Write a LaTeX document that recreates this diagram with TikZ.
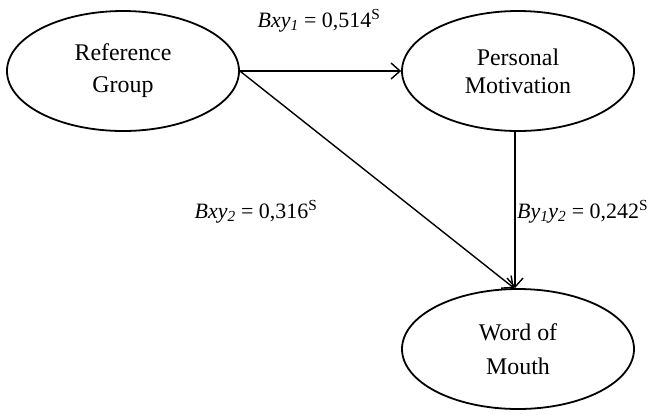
\documentclass[tikz,border=0pt]{standalone}
\usepackage{fontspec}
\setmainfont{Liberation Serif}
\usetikzlibrary{shapes.geometric,arrows.meta}
\tikzset{
  construct/.style={ellipse, draw, line width=1.8bp, minimum width=232bp, minimum height=120bp, inner sep=0pt, align=center, font=\fontsize{24}{28}\selectfont},
  path/.style={line width=1.4bp, -{Straight Barb[length=9bp,width=16bp,line width=1.4bp]}},
  coef/.style={font=\fontsize{22}{26}\selectfont, inner sep=0pt}
}
\begin{document}
\begin{tikzpicture}[x=1bp,y=-1bp]
\useasboundingbox (0,0) rectangle (658,414);
\node[construct, font=\fontsize{24}{32}\selectfont] (RG) at (123,71) {Reference\\Group};
\node[construct] (PM) at (518,71) {Personal\\Motivation};
\node[construct, font=\fontsize{24}{34}\selectfont] (WM) at (518,349) {Word of\\Mouth};
\draw[path] (RG.east) -- (PM.west);
\draw[path] (RG.east) -- ([xshift=-4bp]WM.north);
\draw[path] ([xshift=-3bp]PM.south) -- ([xshift=-3bp]WM.north);
\node[coef] (L1) at (319,21) {\textit{Bxy\textsubscript{1}} = 0,514\textsuperscript{S}};
\node[coef] (L2) at (256,212) {\textit{Bxy\textsubscript{2}} = 0,316\textsuperscript{S}};
\node[coef, anchor=west] (L3) at (517,212) {\textit{By\textsubscript{1}y\textsubscript{2}} = 0,242\textsuperscript{S}};
\end{tikzpicture}
\end{document}
